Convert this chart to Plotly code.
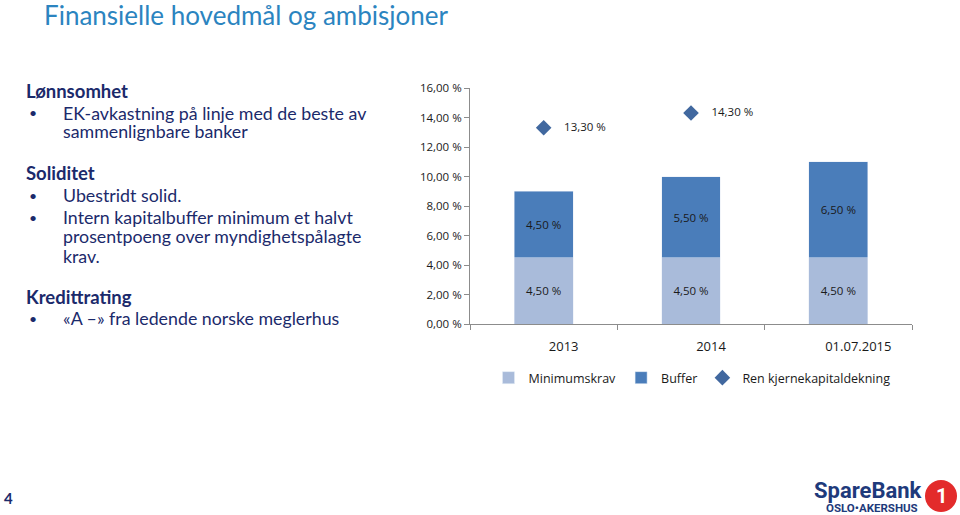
import plotly.graph_objects as go

categories = ["2013", "2014", "01.07.2015"]
minimumskrav = [4.5, 4.5, 4.5]
buffer_vals = [4.5, 5.5, 6.5]
ren_kjerne = [13.3, 14.3, None]
y_ticks = [0, 2, 4, 6, 8, 10, 12, 14, 16]
y_ticktext = [f"{v:.2f} %".replace(".", ",") for v in y_ticks]

title_text = "Finansielle hovedmål og ambisjoner"
left_lines = [
    ("Lønnsomhet", True, 91),
    ("EK-avkastning på linje med de beste av", False, 113),
    ("sammenlignbare banker", None, 131),
    ("Soliditet", True, 173),
    ("Ubestridt solid.", False, 195),
    ("Intern kapitalbuffer minimum et halvt", False, 217),
    ("prosentpoeng over myndighetspålagte", None, 236),
    ("krav.", None, 256),
    ("Kredittrating", True, 297),
    ("«A –» fra ledende norske meglerhus", False, 318),
]

W, H = 960, 515
CHART_FONT = "Open Sans, sans-serif"
TEXT_FONT = "Lato, Open Sans, sans-serif"
NAVY = "#1B2A6B"

fig = go.Figure()
fig.add_trace(go.Bar(
    x=categories, y=minimumskrav, name="Minimumskrav",
    marker=dict(color="#A9BBDA"), width=0.4,
    texttemplate="%{y:.2f} %", textposition="inside", insidetextanchor="middle",
    textfont=dict(color="#1a1a1a", size=11.5, family=CHART_FONT),
))
fig.add_trace(go.Bar(
    x=categories, y=buffer_vals, name="Buffer",
    marker=dict(color="#4A7DBA"), width=0.4,
    texttemplate="%{y:.2f} %", textposition="inside", insidetextanchor="middle",
    textfont=dict(color="#1a1a1a", size=11.5, family=CHART_FONT),
))
fig.add_trace(go.Scatter(
    x=categories, y=ren_kjerne, name="Ren kjernekapitaldekning",
    mode="markers+text", marker=dict(symbol="diamond", size=12, color="#41689F"),
    texttemplate="    %{y:.2f} %", textposition="middle right",
    textfont=dict(color="#1a1a1a", size=11.5, family=CHART_FONT),
    cliponaxis=False,
))

px = lambda v: v / W
py = lambda v: 1 - v / H

fig.update_layout(
    width=W, height=H,
    margin=dict(l=0, r=0, t=0, b=0, autoexpand=False),
    paper_bgcolor="white", plot_bgcolor="white",
    separators=", ",
    barmode="stack",
    bargap=0.6,
    showlegend=True,
    legend=dict(orientation="h", x=px(692), y=py(378), xanchor="center", yanchor="middle",
                traceorder="normal", font=dict(size=12.5, family=CHART_FONT, color="#1a1a1a"),
                itemwidth=30),
    xaxis=dict(domain=[px(470), px(912)], showline=True, linecolor="#8c8c8c", linewidth=1,
               ticks="outside", tickson="boundaries", ticklen=5, tickcolor="#8c8c8c",
               tickfont=dict(size=13, family=CHART_FONT, color="#1a1a1a"),
               ticklabelstandoff=10, ticklabelshift=20, showgrid=False, fixedrange=True),
    yaxis=dict(domain=[py(324), py(88)], range=[0, 16], tickmode="array", tickvals=y_ticks,
               ticktext=y_ticktext, showline=True, linecolor="#8c8c8c",
               linewidth=1, ticks="outside", ticklen=5, tickcolor="#8c8c8c",
               tickfont=dict(size=11.5, family=CHART_FONT, color="#1a1a1a"),
               showgrid=False, zeroline=False, fixedrange=True),
)

annotations = [dict(text=title_text, x=px(42), y=py(15), xref="paper", yref="paper",
                    xanchor="left", yanchor="middle", showarrow=False,
                    font=dict(size=26, family=TEXT_FONT, color="#2B84C0"))]
for txt, kind, yy in left_lines:
    if kind is True:
        annotations.append(dict(text="<b>" + txt + "</b>", x=px(24), y=py(yy), xref="paper",
                                yref="paper", xanchor="left", yanchor="middle", showarrow=False,
                                font=dict(size=18.5, family=TEXT_FONT, color=NAVY)))
    else:
        if kind is False:
            annotations.append(dict(text="•", x=px(27), y=py(yy), xref="paper", yref="paper",
                                    xanchor="left", yanchor="middle", showarrow=False,
                                    font=dict(size=14, family=TEXT_FONT, color=NAVY)))
        annotations.append(dict(text=txt, x=px(61), y=py(yy), xref="paper", yref="paper",
                                xanchor="left", yanchor="middle", showarrow=False,
                                font=dict(size=17.8, family=TEXT_FONT, color=NAVY)))
annotations.append(dict(text="<b>4</b>", x=px(8), y=py(498), xref="paper", yref="paper",
                        xanchor="center", yanchor="middle", showarrow=False,
                        font=dict(size=15, family=TEXT_FONT, color=NAVY)))
annotations.append(dict(text="<b>SpareBank</b>", x=px(868), y=py(490), xref="paper", yref="paper",
                        xanchor="center", yanchor="middle", showarrow=False,
                        font=dict(size=22, family="Roboto, sans-serif", color="#1E3A7B")))
annotations.append(dict(text="<b>OSLO•AKERSHUS</b>", x=px(872), y=py(508), xref="paper", yref="paper",
                        xanchor="center", yanchor="middle", showarrow=False,
                        font=dict(size=11.5, family="Roboto, sans-serif", color="#1E3A7B")))
annotations.append(dict(text="<b>1</b>", x=px(941), y=py(496), xref="paper", yref="paper",
                        xanchor="center", yanchor="middle", showarrow=False,
                        font=dict(size=20, family="Roboto, sans-serif", color="white")))
fig.update_layout(annotations=annotations)
fig.add_shape(type="circle", xref="paper", yref="paper", x0=px(925), x1=px(957),
              y0=py(512), y1=py(480), fillcolor="#E32B2B", line=dict(width=0), layer="below")

fig.write_html("out.html", config={"displayModeBar": False},
               post_script="document.body.style.margin='0';document.body.style.padding='0';document.body.style.overflow='hidden';")
